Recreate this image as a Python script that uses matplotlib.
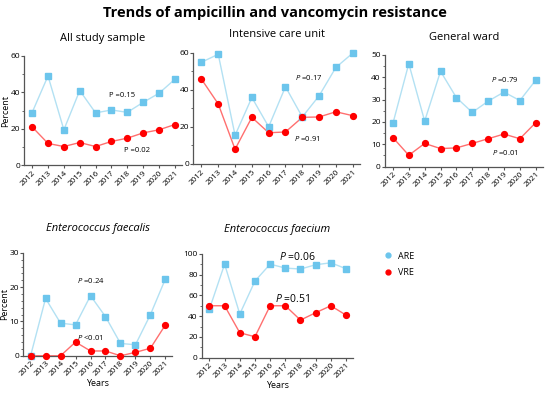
import matplotlib.pyplot as plt
import numpy as np
from matplotlib.ticker import MultipleLocator
from matplotlib.lines import Line2D

plt.rcParams['font.family'] = ['Open Sans', 'DejaVu Sans']
plt.rcParams['mathtext.fontset'] = 'custom'
plt.rcParams['mathtext.it'] = 'Open Sans:italic'
plt.rcParams['mathtext.rm'] = 'Open Sans'

# ─── Data ──────────────────────────────────────────────────────────────────────
years = ["2012", "2013", "2014", "2015", "2016", "2017", "2018", "2019", "2020", "2021"]

all_are = [28.9, 49.0, 19.4, 41.0, 28.7, 30.3, 29.0, 34.5, 39.5, 47.2]
all_vre = [21.0, 11.9, 10.2, 12.4, 10.2, 13.0, 14.8, 17.7, 19.4, 22.3]

icu_are = [54.8, 59.1, 15.4, 35.8, 20.0, 41.6, 25.3, 36.7, 52.0, 59.7]
icu_vre = [45.7, 32.3, 7.9, 25.1, 16.8, 17.2, 25.1, 25.3, 28.1, 26.0]

gw_are = [19.4, 46.1, 20.4, 42.7, 30.9, 24.3, 29.3, 33.4, 29.6, 38.7]
gw_vre = [13.0, 5.1, 10.4, 8.1, 8.4, 10.4, 12.5, 14.6, 12.5, 19.7]

fcl_are = [0.0, 16.7, 9.5, 9.0, 17.5, 11.4, 3.6, 3.2, 12.0, 22.4]
fcl_vre = [0.0, 0.0, 0.0, 4.0, 1.4, 1.4, 0.0, 1.0, 2.2, 9.0]

fcm_are = [46.8, 90.0, 42.0, 73.7, 90.0, 86.2, 85.3, 89.4, 91.3, 85.6]
fcm_vre = [50.0, 50.0, 24.0, 20.2, 50.0, 50.0, 36.2, 43.3, 50.0, 41.0]

# ─── Colours ───────────────────────────────────────────────────────────────────
are_mark, are_line = "#6cc5ec", "#b3e1f3"
vre_mark, vre_line = "#ff0000", "#ff6f6f"
axis_col = "#555555"

fig = plt.figure(figsize=(5.5, 3.94), dpi=100)
fig.suptitle("Trends of ampicillin and vancomycin resistance",
             fontsize=10.5, weight="bold", y=0.985)

panels = [
    # rect, title, italic, are, vre, ymax, major, minor, ylabel, xlabel, p-texts
    ([0.044, 0.581, 0.287, 0.277], "All study sample", False, all_are, all_vre,
     60, 20, 10, True, False,
     [(5.7, 38.4, "P =0.15", 5.5), (6.6, 8.2, "P =0.02", 5.5)]),
    ([0.351, 0.584, 0.304, 0.2825], "Intensive care unit", False, icu_are, icu_vre,
     60, 20, 10, False, False,
     [(6.4, 46.6, "$P$ =0.17", 5.5), (6.3, 13.6, "$P$ =0.91", 5.5)]),
    ([0.700, 0.577, 0.287, 0.2835], "General ward", False, gw_are, gw_vre,
     50, 10, 5, False, False,
     [(7.05, 39.1, "$P$ =0.79", 5.5), (7.05, 6.3, "$P$ =0.01", 5.5)]),
    ([0.042, 0.097, 0.271, 0.2614], "Enterococcus faecalis", True, fcl_are, fcl_vre,
     30, 10, 2, True, True,
     [(4.0, 21.8, "$P$ =0.24", 5.5), (4.0, 5.4, "$P$ <0.01", 5.5)]),
    ([0.367, 0.092, 0.2745, 0.264], "Enterococcus faecium", True, fcm_are, fcm_vre,
     100, 20, 10, False, True,
     [(5.8, 97.0, "$P$ =0.06", 7.5), (5.5, 56.7, "$P$ =0.51", 7.5)]),
]

x = np.arange(len(years))
for rect, title, italic, are, vre, ymax, major, minor, ylab, xlab, ptexts in panels:
    ax = fig.add_axes(rect)
    ax.plot(x, are, color=are_line, lw=1.0, zorder=2)
    ax.plot(x, are, "s", color=are_mark, ms=4.2, zorder=3, clip_on=False)
    ax.plot(x, vre, color=vre_line, lw=1.0, zorder=2)
    ax.plot(x, vre, "o", color=vre_mark, ms=4.2, zorder=4, clip_on=False)

    ax.set_xlim(-0.5, 9.45)
    ax.set_ylim(0, ymax)
    ax.set_xticks(x)
    ax.set_xticklabels(years, rotation=45, ha="right", rotation_mode="anchor",
                       fontsize=5.8)
    ax.yaxis.set_major_locator(MultipleLocator(major))
    ax.yaxis.set_minor_locator(MultipleLocator(minor))
    ax.tick_params(axis="y", labelsize=6, length=2.5, width=0.8, color=axis_col, pad=0.5)
    ax.tick_params(axis="y", which="minor", length=1.5, width=0.6, color=axis_col)
    ax.tick_params(axis="x", length=2.5, width=0.8, color=axis_col, pad=0.5)
    ax.spines[["right", "top"]].set_visible(False)
    for s in ("left", "bottom"):
        ax.spines[s].set_color(axis_col)
        ax.spines[s].set_linewidth(0.9)

    ax.set_title(title, fontsize=8, style="italic" if italic else "normal",
                 pad=16 if italic else 11)
    if ylab:
        ax.set_ylabel("Percent", fontsize=6.5, labelpad=0.5)
    if xlab:
        ax.set_xlabel("Years", fontsize=6.5, labelpad=1)
    for px, py, txt, fs in ptexts:
        ax.text(px, py, txt, fontsize=fs, ha="center", va="center")

# ─── Legend ────────────────────────────────────────────────────────────────────
handles = [Line2D([], [], ls="none", marker="o", color=are_mark, ms=3.5),
           Line2D([], [], ls="none", marker="o", color=vre_mark, ms=3.5)]
fig.legend(handles, ["ARE", "VRE"], loc="upper left", bbox_to_anchor=(0.685, 0.382),
           frameon=False, fontsize=6.5, handlelength=0.8, handletextpad=0.6,
           labelspacing=0.8)

plt.savefig("out.png", dpi=100)
